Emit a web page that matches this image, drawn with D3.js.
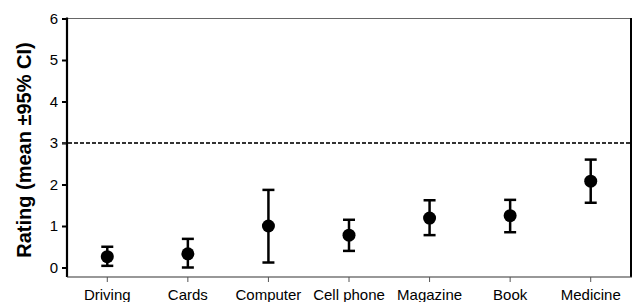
<!DOCTYPE html>
<html><head><meta charset="utf-8">
<script src="https://cdn.jsdelivr.net/npm/d3@7"></script>
<style>body{margin:0;background:#fff;}svg{display:block;font-family:"Liberation Sans",Arial,sans-serif;}</style>
</head><body>
<script>
const categories = ["Driving","Cards","Computer","Cell phone","Magazine","Book","Medicine"];
const means = [0.26, 0.33, 1.0, 0.78, 1.19, 1.25, 2.08];
const lowerCI = [0.04, 0.0, 0.12, 0.40, 0.78, 0.85, 1.56];
const upperCI = [0.50, 0.69, 1.87, 1.15, 1.62, 1.63, 2.60];
const yTicks = [0,1,2,3,4,5,6];
const refValue = 3;
const yTitle = "Rating (mean \u00b195% CI)";

const W = 634, H = 302;
const L = 67, R = 631, T = 18.5, B = 267.5, axisY = 277;
const svg = d3.select("body").append("svg").attr("width", W).attr("height", H);

const x = d3.scaleBand().domain(categories).range([L, R]).paddingInner(0).paddingOuter(0);
const y = d3.scaleLinear().domain([0, 6]).range([B, T]);
const cx = c => x(c) + x.bandwidth() / 2;

// top & right border
svg.append("line").attr("x1", L).attr("x2", R).attr("y1", T).attr("y2", T).attr("stroke", "#666").attr("stroke-width", 1);
svg.append("line").attr("x1", R).attr("x2", R).attr("y1", T - 0.5).attr("y2", axisY).attr("stroke", "#000").attr("stroke-width", 2);

// y axis
const yAxis = svg.append("g").attr("transform", `translate(${L},0)`)
  .call(d3.axisLeft(y).tickValues(yTicks).tickFormat(d3.format("d")).tickSize(5).tickPadding(4));
yAxis.select(".domain").attr("d", `M0,${T - 1}V${axisY}`).attr("stroke", "#000").attr("stroke-width", 2.2);
yAxis.selectAll(".tick line").attr("stroke", "#000").attr("stroke-width", 2);
yAxis.selectAll(".tick text").attr("font-size", 15).attr("fill", "#000").attr("font-family", "Liberation Sans, Arial, sans-serif");

// x axis
const xAxis = svg.append("g").attr("transform", `translate(0,${axisY})`)
  .call(d3.axisBottom(x).tickSize(5).tickPadding(7));
xAxis.select(".domain").attr("d", `M${L},0H${R + 1}`).attr("stroke", "#333").attr("stroke-width", 1.2);
xAxis.selectAll(".tick line").attr("stroke", "#555").attr("stroke-width", 1);
xAxis.selectAll(".tick text").attr("font-size", 15).attr("fill", "#000").attr("font-family", "Liberation Sans, Arial, sans-serif");

// reference dashed line
svg.append("line").attr("x1", L - 5).attr("x2", R).attr("y1", y(refValue)).attr("y2", y(refValue))
  .attr("stroke", "#333").attr("stroke-width", 2).attr("stroke-dasharray", "4,2");

// y title
svg.append("text").attr("transform", `translate(31,150) rotate(-90)`)
  .attr("text-anchor", "middle").attr("font-size", 20).attr("font-weight", "bold").attr("fill", "#000")
  .text(yTitle);

// error bars
const g = svg.append("g");
const capW = 6;
categories.forEach((c, i) => {
  const px = cx(c);
  g.append("line").attr("x1", px).attr("x2", px).attr("y1", y(lowerCI[i])).attr("y2", y(upperCI[i]))
    .attr("stroke", "#000").attr("stroke-width", 2.5);
  [lowerCI[i], upperCI[i]].forEach(v => {
    g.append("line").attr("x1", px - capW).attr("x2", px + capW).attr("y1", y(v)).attr("y2", y(v))
      .attr("stroke", "#000").attr("stroke-width", 2.5);
  });
  g.append("circle").attr("cx", px).attr("cy", y(means[i])).attr("r", 6.5).attr("fill", "#000");
});
</script>
</body></html>
